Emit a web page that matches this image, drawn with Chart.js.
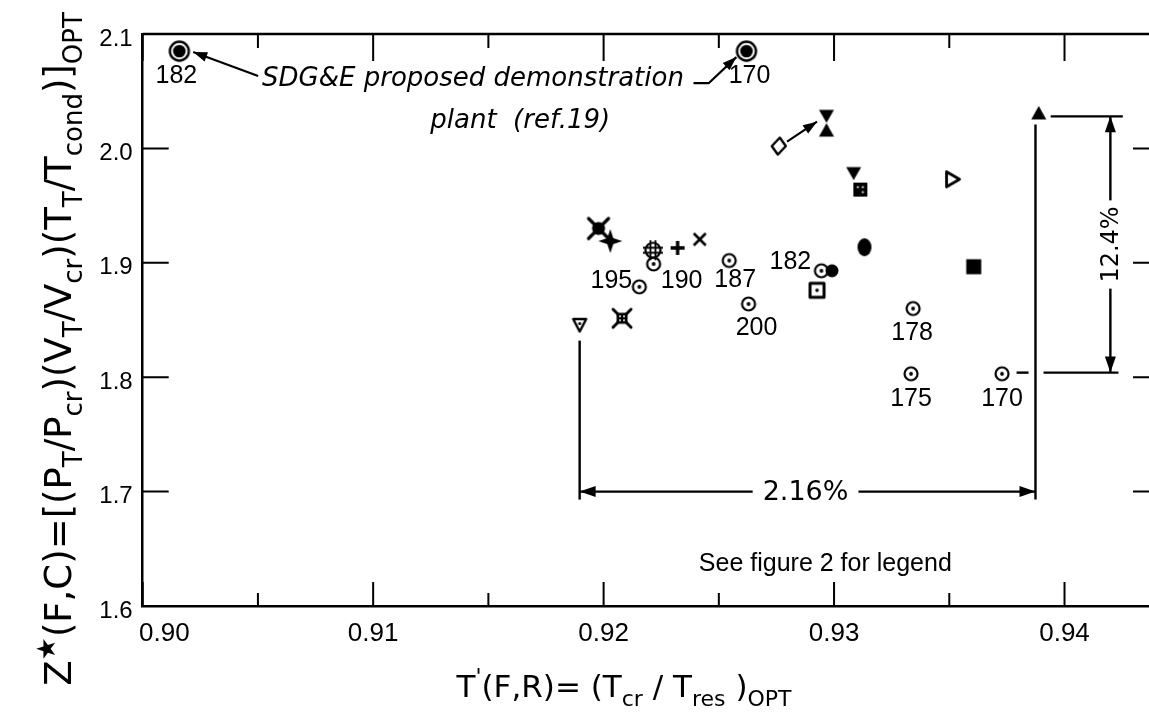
<!DOCTYPE html>
<html>
<head>
<meta charset="utf-8">
<script src="https://cdn.jsdelivr.net/npm/chart.js@4.4.1/dist/chart.umd.min.js"></script>
<style>
  html, body { margin: 0; padding: 0; background: #fff; overflow: hidden; }
  #wrap { position: relative; width: 1180px; height: 721px; }
</style>
</head>
<body>
<div id="wrap"><canvas id="chart"></canvas></div>
<script>
// axis ticks
const xMajorTicks = [0.90, 0.91, 0.92, 0.93, 0.94];
const xMinorTicks = [0.905, 0.915, 0.925, 0.935];
const yMajorTicks = [1.6, 1.7, 1.8, 1.9, 2.0, 2.1];

// runs shown as small bullseyes, labelled with turbine inlet temperature
const runLabels = ["195", "190", "187", "200", "182", "178", "175", "170"];
const runX = [0.92155, 0.92217, 0.92545, 0.92629, 0.92945, 0.93343, 0.93334, 0.93729];
const runY = [1.879, 1.899, 1.902, 1.864, 1.893, 1.860, 1.803, 1.803];

// SDG&E proposed demonstration plant
const plantLabels = ["182", "170"];
const plantX = [0.90159, 0.9262];
const plantY = [2.085, 2.085];

// other working fluids (figure 2 legend), [x, y]
const filledDownTri = [[0.92967, 2.028], [0.93085, 1.978]];
const filledUpTri = [[0.92967, 2.016], [0.93888, 2.031]];
const openDiamond = [[0.92760, 2.002]];
const dottedSquare = [[0.93114, 1.964]];
const openRightTri = [[0.93512, 1.973]];
const xBlob = [[0.91978, 1.930]];
const fourStar = [[0.92029, 1.919]];
const hashCircle = [[0.92214, 1.911]];
const plusMark = [[0.92321, 1.913]];
const xMark = [[0.92417, 1.9205]];
const filledCircle = [[0.92991, 1.893]];
const filledOval = [[0.93132, 1.9136]];
const openSquareDot = [[0.92926, 1.876]];
const filledSquare = [[0.93606, 1.8966]];
const crossedBox = [[0.92080, 1.8515]];
const openDownTriDot = [[0.91896, 1.8456]];

// dimension lines: spread of T' (2.16%) and of Z* (12.4%)
const spreadX = [0.91896, 0.93874];
const spreadXLevel = 1.700;
const spreadXText = "2.16%";
const spreadY = [1.804, 2.028];
const spreadYLevel = 0.94199;
const spreadYText = "12.4%";
const extensionLines = [
  [[0.91896, 1.832], [0.91896, 1.693]],
  [[0.93874, 2.021], [0.93874, 1.693]],
  [[0.93940, 2.028], [0.94253, 2.028]],
  [[0.93909, 1.804], [0.94234, 1.804]],
  [[0.93792, 1.804], [0.93844, 1.804]],
];

// leader arrows (head at last point)
const leaders = [
  [[0.90501, 2.0633], [0.90219, 2.0843]],
  [[0.92390, 2.057], [0.92456, 2.057], [0.92576, 2.0798]],
  [[0.92796, 2.0059], [0.92926, 2.0234]],
];

const FONT = '"Liberation Sans", Arial, sans-serif';
const WIDE = '"DejaVu Sans", sans-serif';

function marker(w, h, draw) {
  const c = document.createElement("canvas");
  c.width = w;
  c.height = h;
  const g = c.getContext("2d");
  g.translate(w / 2, h / 2);
  g.fillStyle = "#000";
  g.strokeStyle = "#000";
  g.lineJoin = "round";
  draw(g);
  return c;
}

function poly(g, pts) {
  g.beginPath();
  pts.forEach(([x, y], i) => (i ? g.lineTo(x, y) : g.moveTo(x, y)));
  g.closePath();
}

function dot(g, x, y, r) {
  g.beginPath();
  g.arc(x, y, r, 0, Math.PI * 2);
  g.fill();
}

const styles = {
  bullseye: marker(18, 18, g => {
    g.lineWidth = 2.2;
    g.beginPath(); g.arc(0, 0, 6.5, 0, Math.PI * 2); g.stroke();
    dot(g, 0, 0, 1.9);
  }),
  bigBullseye: marker(26, 26, g => {
    g.lineWidth = 2.4;
    g.beginPath(); g.arc(0, 0, 9.5, 0, Math.PI * 2); g.stroke();
    dot(g, 0, 0, 6.3);
  }),
  downTri: marker(20, 18, g => { poly(g, [[-7.5, -6.5], [7.5, -6.5], [0, 6.5]]); g.fill(); }),
  upTri: marker(20, 18, g => { poly(g, [[0, -7], [7.5, 6.5], [-7.5, 6.5]]); g.fill(); }),
  diamond: marker(22, 22, g => { g.lineWidth = 2.4; poly(g, [[1, -8.5], [7, 0], [-1, 8.5], [-7, 0]]); g.stroke(); }),
  dottedSquare: marker(18, 18, g => {
    g.fillRect(-7, -7, 14, 14);
    g.fillStyle = "#fff";
    dot(g, -2.5, -2.5, 1.1); dot(g, 2.5, 2.5, 1.1); dot(g, 2.5, -2.5, 1.1);
  }),
  rightTri: marker(22, 22, g => { g.lineWidth = 2.8; poly(g, [[-5.5, -7.5], [7.5, 0], [-5.5, 7.5]]); g.stroke(); }),
  xBlob: marker(26, 26, g => {
    g.lineWidth = 3.2; g.lineCap = "round";
    g.beginPath(); g.moveTo(-10, -10); g.lineTo(10, 10); g.moveTo(-10, 10); g.lineTo(10, -10); g.stroke();
    dot(g, 0, 0, 6.5);
  }),
  fourStar: marker(28, 28, g => {
    poly(g, [[0, -12], [3, -3], [12, 0], [3, 3], [0, 12], [-3, 3], [-12, 0], [-3, -3]]);
    g.fill();
  }),
  hashCircle: marker(24, 24, g => {
    g.lineWidth = 2.2;
    g.beginPath(); g.arc(0, 0, 7.5, 0, Math.PI * 2); g.stroke();
    g.lineWidth = 1.8;
    g.beginPath();
    g.moveTo(-2.5, -10); g.lineTo(-2.5, 10); g.moveTo(2.5, -10); g.lineTo(2.5, 10);
    g.moveTo(-10, -2.5); g.lineTo(10, -2.5); g.moveTo(-10, 2.5); g.lineTo(10, 2.5);
    g.stroke();
  }),
  plus: marker(20, 20, g => {
    g.lineWidth = 3.4;
    g.beginPath(); g.moveTo(-7, 0); g.lineTo(7, 0); g.moveTo(0, -7); g.lineTo(0, 7); g.stroke();
  }),
  cross: marker(18, 18, g => {
    g.lineWidth = 2.6;
    g.beginPath(); g.moveTo(-6, -6); g.lineTo(6, 6); g.moveTo(-6, 6); g.lineTo(6, -6); g.stroke();
  }),
  filledCircle: marker(18, 18, g => dot(g, 0, 0, 6.5)),
  filledOval: marker(20, 24, g => { g.beginPath(); g.ellipse(0, 0, 7, 9, 0, 0, Math.PI * 2); g.fill(); }),
  openSquareDot: marker(22, 22, g => { g.lineWidth = 3; g.strokeRect(-7, -7, 14, 14); dot(g, 0, 0, 1.8); }),
  filledSquare: marker(20, 20, g => { g.fillRect(-7.5, -7.5, 15, 15); }),
  crossedBox: marker(24, 24, g => {
    g.lineWidth = 3; g.lineCap = "round";
    g.beginPath(); g.moveTo(-9, -9); g.lineTo(9, 9); g.moveTo(-9, 9); g.lineTo(9, -9); g.stroke();
    g.fillRect(-5.5, -5.5, 11, 11);
    g.fillStyle = "#fff";
    dot(g, -2, -2, 1); dot(g, 2, 2, 1); dot(g, 2, -2, 1); dot(g, -2, 2, 1);
  }),
  downTriDot: marker(20, 20, g => { g.lineWidth = 2.4; poly(g, [[-6.5, -6], [6.5, -6], [0, 6.5]]); g.stroke(); dot(g, 0, -1.5, 1.5); }),
};

const pairs = (arr) => arr.map(([x, y]) => ({ x, y }));
const zipXY = (xs, ys) => xs.map((x, i) => ({ x, y: ys[i] }));

function ds(data, style) {
  return { data, pointStyle: style, pointRadius: 10, showLine: false };
}

const datasets = [
  ds(zipXY(runX, runY), styles.bullseye),
  ds(zipXY(plantX, plantY), styles.bigBullseye),
  ds(pairs(filledDownTri), styles.downTri),
  ds(pairs(filledUpTri), styles.upTri),
  ds(pairs(openDiamond), styles.diamond),
  ds(pairs(dottedSquare), styles.dottedSquare),
  ds(pairs(openRightTri), styles.rightTri),
  ds(pairs(xBlob), styles.xBlob),
  ds(pairs(fourStar), styles.fourStar),
  ds(pairs(hashCircle), styles.hashCircle),
  ds(pairs(plusMark), styles.plus),
  ds(pairs(xMark), styles.cross),
  ds(pairs(filledCircle), styles.filledCircle),
  ds(pairs(filledOval), styles.filledOval),
  ds(pairs(openSquareDot), styles.openSquareDot),
  ds(pairs(filledSquare), styles.filledSquare),
  ds(pairs(crossedBox), styles.crossedBox),
  ds(pairs(openDownTriDot), styles.downTriDot),
];

// label offsets in pixels from each marker
const runLabelOffsets = [[-28, -6], [28, 17], [6, 20], [8, 24], [-31, -9], [-1, 25], [0, 25], [0, 25]];
const plantLabelOffsets = [[-3, 25], [3, 25]];

function arrowHead(ctx, from, to, len = 14, half = 5) {
  const a = Math.atan2(to[1] - from[1], to[0] - from[0]);
  ctx.save();
  ctx.translate(to[0], to[1]);
  ctx.rotate(a);
  ctx.beginPath();
  ctx.moveTo(0, 0);
  ctx.lineTo(-len, -half);
  ctx.lineTo(-len, half);
  ctx.closePath();
  ctx.fill();
  ctx.restore();
}

function drawRich(ctx, segs, x, y, big, small) {
  let total = 0;
  const widths = segs.map(([t, k]) => {
    ctx.font = `${k ? small : big}px ${WIDE}`;
    const w = ctx.measureText(t).width;
    total += w;
    return w;
  });
  let cx = x - total / 2;
  ctx.textAlign = "left";
  ctx.textBaseline = "alphabetic";
  segs.forEach(([t, k], i) => {
    ctx.font = `${k ? small : big}px ${WIDE}`;
    const dy = k === "sub" ? big * 0.3 : k === "sup" ? -big * 0.42 : 0;
    ctx.fillText(t, cx, y + dy);
    cx += widths[i];
  });
}

const xTitle = [["T", ""], ["'", "sup"], ["(F,R)= (T", ""], ["cr", "sub"], [" / T", ""], ["res", "sub"], [" )", ""], ["OPT", "sub"]];
const yTitle = [["Z", ""], ["★", "sup"], ["(F,C)=[(P", ""], ["T", "sub"], ["/P", ""], ["cr", "sub"], [")(V", ""], ["T", "sub"],
  ["/V", ""], ["cr", "sub"], [")(T", ""], ["T", "sub"], ["/T", ""], ["cond", "sub"], [")]", ""], ["OPT", "sub"]];

const framePlugin = {
  id: "frame",
  beforeDatasetsDraw(chart) {
    const { ctx, chartArea: a, scales: { x, y } } = chart;
    ctx.save();
    ctx.strokeStyle = "#000";
    ctx.lineWidth = 2.5;
    ctx.beginPath();
    ctx.moveTo(a.left, a.top); ctx.lineTo(a.right, a.top); ctx.lineTo(a.right, a.bottom);
    ctx.stroke();
    ctx.lineWidth = 2;
    ctx.beginPath();
    const xt = (v, lb, lt) => {
      const p = x.getPixelForValue(v);
      ctx.moveTo(p, a.bottom); ctx.lineTo(p, a.bottom - lb);
      ctx.moveTo(p, a.top); ctx.lineTo(p, a.top + lt);
    };
    xMajorTicks.forEach(v => xt(v, 24, 27));
    xMinorTicks.forEach(v => xt(v, 13, 14));
    yMajorTicks.forEach(v => {
      const p = y.getPixelForValue(v);
      ctx.moveTo(a.left, p); ctx.lineTo(a.left + 26, p);
      ctx.moveTo(a.right, p); ctx.lineTo(a.right - 26, p);
    });
    ctx.stroke();
    ctx.restore();
  },
  afterDatasetsDraw(chart) {
    const { ctx, scales: { x, y } } = chart;
    const px = ([vx, vy]) => [x.getPixelForValue(vx), y.getPixelForValue(vy)];
    ctx.save();
    ctx.fillStyle = "#000";
    ctx.strokeStyle = "#000";

    // point labels
    ctx.font = `25px ${FONT}`;
    ctx.textAlign = "center";
    ctx.textBaseline = "middle";
    runLabels.forEach((t, i) => {
      const [cx, cy] = px([runX[i], runY[i]]);
      ctx.fillText(t, cx + runLabelOffsets[i][0], cy + runLabelOffsets[i][1]);
    });
    plantLabels.forEach((t, i) => {
      const [cx, cy] = px([plantX[i], plantY[i]]);
      ctx.fillText(t, cx + plantLabelOffsets[i][0], cy + plantLabelOffsets[i][1]);
    });

    // extension lines
    ctx.lineWidth = 2.4;
    extensionLines.forEach(seg => {
      const [p0, p1] = seg.map(px);
      ctx.beginPath(); ctx.moveTo(p0[0], p0[1]); ctx.lineTo(p1[0], p1[1]); ctx.stroke();
    });

    // leader arrows
    ctx.lineWidth = 2.2;
    leaders.forEach(pts => {
      const pp = pts.map(px);
      ctx.beginPath();
      pp.forEach((p, i) => (i ? ctx.lineTo(p[0], p[1]) : ctx.moveTo(p[0], p[1])));
      ctx.stroke();
      arrowHead(ctx, pp[pp.length - 2], pp[pp.length - 1], 14, 5);
    });

    // 2.16% dimension
    const l = px([spreadX[0], spreadXLevel]);
    const r = px([spreadX[1], spreadXLevel]);
    ctx.lineWidth = 2.4;
    ctx.beginPath(); ctx.moveTo(l[0], l[1]); ctx.lineTo(r[0], r[1]); ctx.stroke();
    arrowHead(ctx, r, l, 16, 5.5);
    arrowHead(ctx, l, r, 16, 5.5);
    ctx.font = `27px ${WIDE}`;
    let w = ctx.measureText(spreadXText).width;
    const mx = (l[0] + r[0]) / 2 - 2;
    ctx.fillStyle = "#fff";
    ctx.fillRect(mx - w / 2 - 10, l[1] - 13, w + 20, 26);
    ctx.fillStyle = "#000";
    ctx.fillText(spreadXText, mx, l[1] + 1);

    // 12.4% dimension
    const b = px([spreadYLevel, spreadY[0]]);
    const t = px([spreadYLevel, spreadY[1]]);
    ctx.beginPath(); ctx.moveTo(b[0], b[1]); ctx.lineTo(t[0], t[1]); ctx.stroke();
    arrowHead(ctx, b, t, 16, 5.5);
    arrowHead(ctx, t, b, 16, 5.5);
    ctx.save();
    ctx.translate(b[0], (b[1] + t[1]) / 2);
    ctx.rotate(-Math.PI / 2);
    ctx.font = `24px ${WIDE}`;
    w = ctx.measureText(spreadYText).width;
    ctx.fillStyle = "#fff";
    ctx.fillRect(-w / 2 - 6, -12, w + 12, 24);
    ctx.fillStyle = "#000";
    ctx.fillText(spreadYText, 0, 1);
    ctx.restore();

    // notes
    ctx.font = `oblique 26px ${WIDE}`;
    ctx.textAlign = "left";
    const s1 = px([0.90518, 2.0607]);
    ctx.fillText("SDG&E proposed demonstration", s1[0], s1[1]);
    ctx.textAlign = "center";
    const s2 = px([0.91638, 2.024]);
    ctx.fillText("plant  (ref.19)", s2[0], s2[1]);
    ctx.font = `25px ${FONT}`;
    const s3 = px([0.92962, 1.6367]);
    ctx.fillText("See figure 2 for legend", s3[0], s3[1]);

    // axis titles
    drawRich(ctx, xTitle, 624, 697, 31, 22);
    ctx.save();
    ctx.translate(71, 349);
    ctx.rotate(-Math.PI / 2);
    drawRich(ctx, yTitle, 0, 0, 37, 26);
    ctx.restore();
    ctx.restore();
  },
};

new Chart(document.getElementById("chart"), {
  type: "scatter",
  data: { datasets },
  options: {
    responsive: true,
    maintainAspectRatio: false,
    animation: false,
    events: [],
    layout: { padding: { left: 0, top: 34, right: 21, bottom: 0 } },
    scales: {
      x: {
        type: "linear",
        min: 0.90,
        max: 0.9441,
        afterBuildTicks: s => { s.ticks = xMajorTicks.map(v => ({ value: v })); },
        afterFit: s => { s.height = 115; },
        ticks: {
          // first label sits clear of the "1.6" label, as in the original
          callback: (v, i) => (i === 0 ? "\u2007\u2007\u2007" : "") + v.toFixed(2),
          font: { family: FONT, size: 26 },
          color: "#000",
          padding: 12,
          maxRotation: 0,
          autoSkip: false,
        },
        grid: { drawOnChartArea: false, drawTicks: false },
        border: { color: "#000", width: 2.5 },
      },
      y: {
        type: "linear",
        min: 1.6,
        max: 2.1,
        afterBuildTicks: s => { s.ticks = yMajorTicks.map(v => ({ value: v })); },
        afterFit: s => { s.width = 142.7; },
        ticks: {
          callback: v => v.toFixed(1),
          font: { family: FONT, size: 24 },
          color: "#000",
          padding: 10,
          labelOffset: 5,
        },
        grid: { drawOnChartArea: false, drawTicks: false },
        border: { color: "#000", width: 2.5 },
      },
    },
    plugins: {
      legend: { display: false },
      tooltip: { enabled: false },
    },
  },
  plugins: [framePlugin],
});
</script>
</body>
</html>
